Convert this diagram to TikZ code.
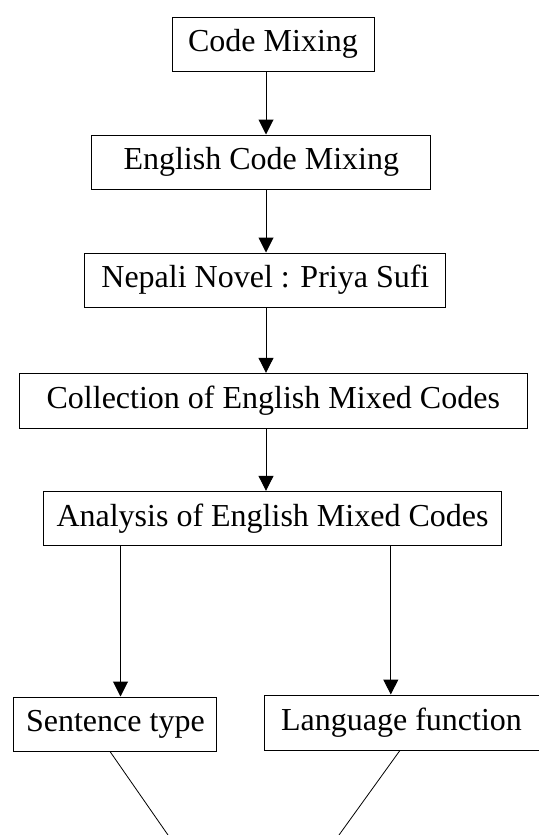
\documentclass[tikz,border=0pt]{standalone}
\usepackage{fontspec}
\setmainfont{Liberation Serif}
\usepackage{xcolor}
\usepackage{tikz}
\usetikzlibrary{positioning, arrows.meta, calc}
\definecolor{cmBlack}{RGB}{0, 0, 0}
\tikzset{
    base/.style={
        font=\fontsize{16}{19}\selectfont,
        align=center,
        text=cmBlack
    },
    stage/.style={
        base,
        rectangle,
        draw=cmBlack,
        line width=0.5pt,
        fill=white,
        inner sep=0pt,
        minimum height=27pt
    },
    flow/.style={
        -{Triangle[length=7.5pt, width=7.5pt]},
        line width=0.5pt,
        color=cmBlack
    },
    link/.style={
        line width=0.4pt,
        color=cmBlack
    }
}

\begin{document}
\begin{tikzpicture}[x=0.5pt, y=-0.5pt]
    \useasboundingbox (0,0) rectangle (539,835);

    % Main chain
    \node[stage, minimum width=101pt] (mix) at (273, 44) {Code Mixing};
    \node[stage, minimum width=169.5pt] (engmix) at (261.3, 162) {English Code Mixing};
    \node[stage, minimum width=180.5pt] (novel) at (265.4, 280) {Nepali Novel : Priya Sufi};
    \node[stage, minimum width=253.7pt, minimum height=27.5pt] (collect) at (273.3, 400.8) {Collection of English Mixed Codes};
    \node[stage, minimum width=229.2pt] (analysis) at (272.5, 518.3) {Analysis of English Mixed Codes};

    % Two branches
    \node[stage, minimum width=101.5pt] (sentence) at (115.4, 724) {Sentence type};
    \node[stage, minimum width=137.5pt, minimum height=27.5pt] (function) at (401.5, 722.5) {Language function};

    % Spine and branch positions
    \coordinate (spine) at (266, 0);
    \coordinate (lbranch) at (120.5, 0);
    \coordinate (rbranch) at (390.8, 0);

    \draw[flow] (mix.south -| spine) -- (engmix.north -| spine);
    \draw[flow] (engmix.south -| spine) -- (novel.north -| spine);
    \draw[flow] (novel.south -| spine) -- (collect.north -| spine);
    \draw[flow] (collect.south -| spine) -- (analysis.north -| spine);
    \draw[flow] (analysis.south -| lbranch) -- (sentence.north -| lbranch);
    \draw[flow] (analysis.south -| rbranch) -- (function.north -| rbranch);

    % Lines running off the page
    \coordinate (lend) at (168, 835);
    \coordinate (rend) at (339, 835);
    \draw[link] ([xshift=-2.7pt]sentence.south) -- (lend);
    \draw[link] ([xshift=-0.8pt]function.south) -- (rend);

\end{tikzpicture}
\end{document}
